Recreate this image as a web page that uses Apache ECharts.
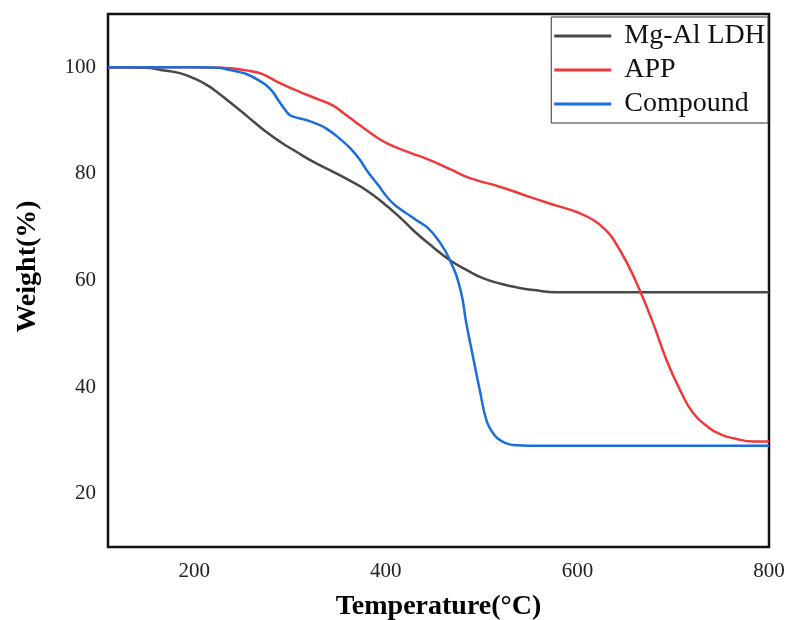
<!DOCTYPE html>
<html>
<head>
<meta charset="utf-8">
<script src="https://cdn.jsdelivr.net/npm/echarts@6/dist/echarts.min.js"></script>
<style>
  html, body { margin: 0; padding: 0; background: #fff; }
  #chart { width: 787px; height: 620px; }
</style>
</head>
<body>
<div id="chart"></div>
<script>
// temperatures (°C) and weight (%)
const ldhTemp = [110, 150, 165, 185, 200, 213, 225, 237, 250, 262, 275, 290, 307, 324, 345, 363, 380, 397, 415, 430, 449, 467, 485, 502, 520, 537, 555, 578, 620, 700, 800];
const ldhWeight = [100, 99.9, 99.5, 98.9, 97.9, 96.7, 95.2, 93.5, 91.6, 89.8, 87.9, 86.0, 84.1, 82.3, 80.4, 78.7, 76.9, 74.6, 71.8, 69.2, 66.3, 63.8, 61.9, 60.4, 59.4, 58.7, 58.2, 57.8, 57.8, 57.8, 57.8];

const appTemp = [110, 200, 230, 245, 258, 270, 290, 310, 331, 345, 356, 368, 380, 392, 404, 425, 446, 467, 488, 519, 550, 579, 600, 617, 630, 638, 652, 665, 679, 693, 707, 721, 738, 750, 763, 784, 800];
const appWeight = [100, 100, 99.9, 99.7, 99.3, 98.8, 97.0, 95.4, 93.9, 92.8, 91.4, 89.8, 88.2, 86.7, 85.5, 84.0, 82.6, 80.9, 79.2, 77.6, 75.7, 74.0, 72.8, 71.3, 69.4, 67.6, 63.2, 58.2, 52.0, 45.1, 39.5, 35.1, 32.3, 31.1, 30.4, 29.8, 29.8];

const cpdTemp = [110, 200, 225, 235, 245, 255, 267, 279, 289, 295, 300, 306, 317, 328, 338, 352, 363, 372, 380, 392, 404, 415, 425, 432, 443, 455, 467, 478, 484, 491, 498, 505, 511, 516, 525, 537, 560, 800];
const cpdWeight = [100, 100, 99.9, 99.6, 99.2, 98.7, 97.6, 96.0, 93.5, 92.0, 91.0, 90.6, 90.1, 89.4, 88.5, 86.6, 84.8, 82.9, 80.7, 77.9, 75.1, 73.4, 72.2, 71.3, 70.0, 67.5, 63.8, 58.2, 52.0, 45.7, 39.5, 33.8, 31.6, 30.5, 29.5, 29.1, 29.0, 29.0];

const xTicks = [200, 400, 600, 800];
const yTicks = [20, 40, 60, 80, 100];

const pairs = (xs, ys) => xs.map((x, i) => [x, ys[i]]);

const serif = '"Liberation Serif", "Times New Roman", serif';

const chart = echarts.init(document.getElementById('chart'));

const lineSeries = (name, xs, ys, color) => ({
  name: name,
  type: 'line',
  data: pairs(xs, ys),
  showSymbol: false,
  smooth: 0.5,
  lineStyle: { color: color, width: 2.5 },
  itemStyle: { color: color }
});

chart.setOption({
  animation: false,
  grid: {
    left: 108, right: 18, top: 14, bottom: 73,
    outerBoundsMode: 'none',
    containLabel: false,
    show: true, borderColor: '#111', borderWidth: 2.5
  },
  legend: {
    orient: 'vertical',
    right: 19, top: 17,
    padding: [4, 3, 4, 3],
    itemGap: 4,
    itemWidth: 57, itemHeight: 3,
    borderColor: '#333', borderWidth: 1,
    backgroundColor: '#fff',
    textStyle: { fontFamily: serif, fontSize: 28, color: '#111', lineHeight: 30, padding: [0, 0, 0, 8] },
    data: [
      { name: 'Mg-Al LDH', icon: 'rect' },
      { name: 'APP', icon: 'rect' },
      { name: 'Compound', icon: 'rect' }
    ]
  },
  xAxis: {
    type: 'value', min: 110, max: 800,
    name: 'Temperature(°C)', nameLocation: 'middle', nameGap: 46,
    nameTextStyle: { fontFamily: serif, fontSize: 28, fontWeight: 'bold', color: '#000' },
    axisLine: { show: false },
    axisTick: { show: false },
    splitLine: { show: false },
    axisLabel: { customValues: xTicks, margin: 14, fontFamily: serif, fontSize: 21, color: '#222' }
  },
  yAxis: {
    type: 'value', min: 10, max: 110,
    name: 'Weight(%)', nameLocation: 'middle', nameGap: 66,
    nameTextStyle: { fontFamily: serif, fontSize: 28, fontWeight: 'bold', color: '#000', padding: [0, 0, 0, 28] },
    axisLine: { show: false },
    axisTick: { show: false },
    splitLine: { show: false },
    axisLabel: { customValues: yTicks, margin: 12, fontFamily: serif, fontSize: 21, color: '#222' }
  },
  series: [
    lineSeries('Mg-Al LDH', ldhTemp, ldhWeight, '#484848'),
    lineSeries('APP', appTemp, appWeight, '#f0393b'),
    lineSeries('Compound', cpdTemp, cpdWeight, '#1a6ddf')
  ]
});

window.addEventListener('resize', () => chart.resize());
</script>
</body>
</html>
